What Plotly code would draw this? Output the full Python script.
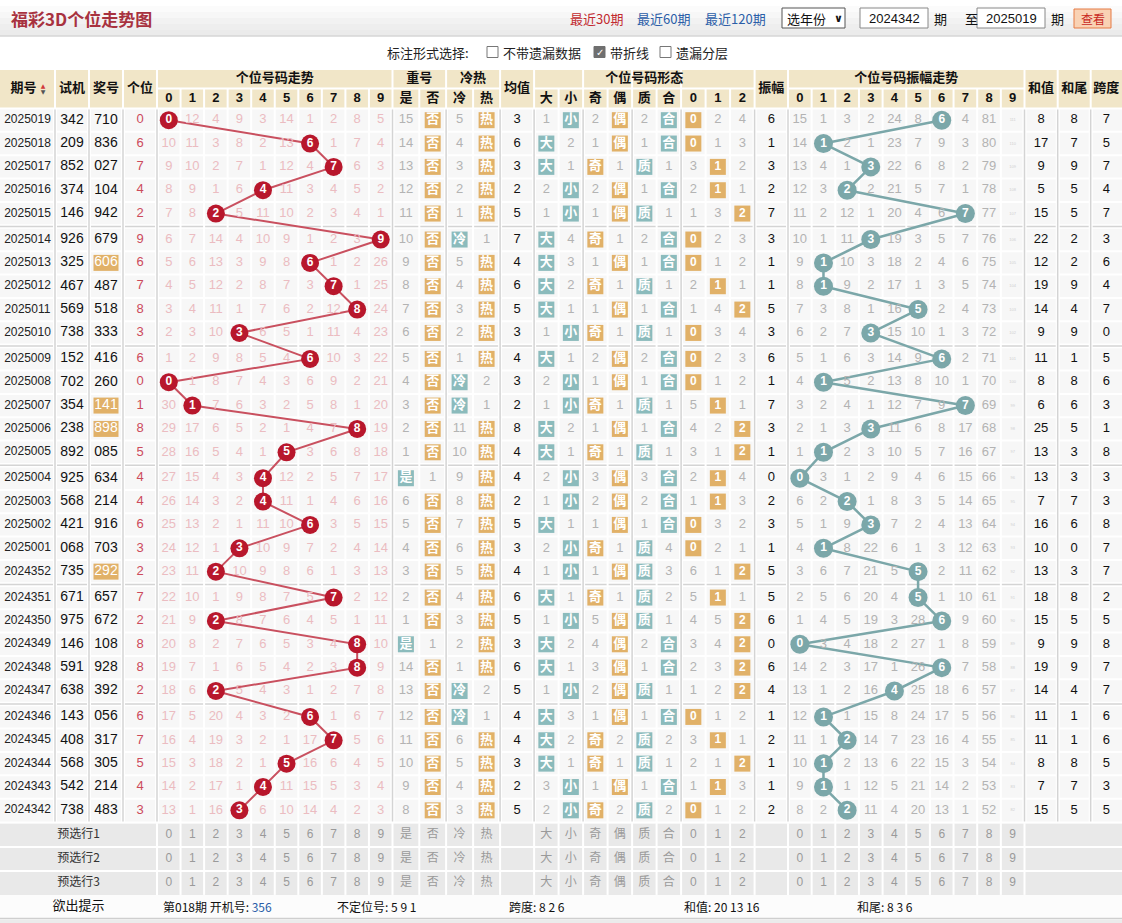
import plotly.graph_objects as go

# ---------------- 数据 ----------------
periods = ["2025019", "2025018", "2025017", "2025016", "2025015", "2025014", "2025013", "2025012",
           "2025011", "2025010", "2025009", "2025008", "2025007", "2025006", "2025005", "2025004",
           "2025003", "2025002", "2025001", "2024352", "2024351", "2024350", "2024349", "2024348",
           "2024347", "2024346", "2024345", "2024344", "2024343", "2024342"]
test_nums = ["342", "209", "852", "374", "146", "926", "325", "467", "569", "738", "152", "702", "354", "238", "892",
             "925", "568", "421", "068", "735", "671", "975", "146", "591", "638", "143", "408", "568", "542", "738"]
draws = ["710", "836", "027", "104", "942", "679", "606", "487", "518", "333", "416", "260", "141", "898", "085",
         "634", "214", "916", "703", "292", "657", "672", "108", "928", "392", "056", "317", "305", "214", "483"]

# 个位号码走势遗漏 (0 = 当期开出)
trend_miss = [
    [0, 12, 4, 9, 3, 14, 1, 2, 8, 5], [10, 11, 3, 8, 2, 13, 0, 1, 7, 4], [9, 10, 2, 7, 1, 12, 4, 0, 6, 3],
    [8, 9, 1, 6, 0, 11, 3, 4, 5, 2], [7, 8, 0, 5, 11, 10, 2, 3, 4, 1], [6, 7, 14, 4, 10, 9, 1, 2, 3, 0],
    [5, 6, 13, 3, 9, 8, 0, 1, 2, 26], [4, 5, 12, 2, 8, 7, 3, 0, 1, 25], [3, 4, 11, 1, 7, 6, 2, 12, 0, 24],
    [2, 3, 10, 0, 6, 5, 1, 11, 4, 23], [1, 2, 9, 8, 5, 4, 0, 10, 3, 22], [0, 1, 8, 7, 4, 3, 6, 9, 2, 21],
    [30, 0, 7, 6, 3, 2, 5, 8, 1, 20], [29, 17, 6, 5, 2, 1, 4, 7, 0, 19], [28, 16, 5, 4, 1, 0, 3, 6, 8, 18],
    [27, 15, 4, 3, 0, 12, 2, 5, 7, 17], [26, 14, 3, 2, 0, 11, 1, 4, 6, 16], [25, 13, 2, 1, 11, 10, 0, 3, 5, 15],
    [24, 12, 1, 0, 10, 9, 7, 2, 4, 14], [23, 11, 0, 10, 9, 8, 6, 1, 3, 13], [22, 10, 1, 9, 8, 7, 5, 0, 2, 12],
    [21, 9, 0, 8, 7, 6, 4, 5, 1, 11], [20, 8, 2, 7, 6, 5, 3, 4, 0, 10], [19, 7, 1, 6, 5, 4, 2, 3, 0, 9],
    [18, 6, 0, 5, 4, 3, 1, 2, 7, 8], [17, 5, 20, 4, 3, 2, 0, 1, 6, 7], [16, 4, 19, 3, 2, 1, 17, 0, 5, 6],
    [15, 3, 18, 2, 1, 0, 16, 6, 4, 5], [14, 2, 17, 1, 0, 11, 15, 5, 3, 4], [13, 1, 16, 0, 6, 10, 14, 4, 2, 3]]

repeat_miss = [[15, 0], [14, 0], [13, 0], [12, 0], [11, 0], [10, 0], [9, 0], [8, 0], [7, 0], [6, 0],
               [5, 0], [4, 0], [3, 0], [2, 0], [1, 0], [0, 1], [6, 0], [5, 0], [4, 0], [3, 0],
               [2, 0], [1, 0], [0, 1], [14, 0], [13, 0], [12, 0], [11, 0], [10, 0], [9, 0], [8, 0]]
coldhot_miss = [[5, 0], [4, 0], [3, 0], [2, 0], [1, 0], [0, 1], [5, 0], [4, 0], [3, 0], [2, 0],
                [1, 0], [0, 2], [0, 1], [11, 0], [10, 0], [9, 0], [8, 0], [7, 0], [6, 0], [5, 0],
                [4, 0], [3, 0], [2, 0], [1, 0], [0, 2], [0, 1], [6, 0], [5, 0], [4, 0], [3, 0]]
avg_vals = [3, 6, 3, 2, 5, 7, 4, 6, 5, 3, 4, 3, 2, 8, 4, 4, 2, 5, 3, 4, 6, 5, 3, 6, 5, 4, 4, 3, 2, 5]

bigsmall_miss = [[1, 0], [0, 2], [0, 1], [2, 0], [1, 0], [0, 4], [0, 3], [0, 2], [0, 1], [1, 0],
                 [0, 1], [2, 0], [1, 0], [0, 2], [0, 1], [2, 0], [1, 0], [0, 1], [2, 0], [1, 0],
                 [0, 1], [1, 0], [0, 2], [0, 1], [1, 0], [0, 3], [0, 2], [0, 1], [3, 0], [2, 0]]
oddeven_miss = [[2, 0], [1, 0], [0, 1], [2, 0], [1, 0], [0, 1], [1, 0], [0, 1], [1, 0], [0, 1],
                [2, 0], [1, 0], [0, 1], [1, 0], [0, 1], [3, 0], [2, 0], [1, 0], [0, 1], [1, 0],
                [0, 1], [5, 0], [4, 0], [3, 0], [2, 0], [1, 0], [0, 2], [0, 1], [1, 0], [0, 2]]
primecomp_miss = [[2, 0], [1, 0], [0, 1], [1, 0], [0, 1], [2, 0], [1, 0], [0, 1], [1, 0], [0, 1],
                  [2, 0], [1, 0], [0, 1], [1, 0], [0, 1], [3, 0], [2, 0], [1, 0], [0, 4], [0, 3],
                  [0, 2], [0, 1], [2, 0], [1, 0], [0, 1], [1, 0], [0, 2], [0, 1], [1, 0], [0, 2]]
mod3_miss = [[0, 2, 4], [0, 1, 3], [3, 0, 2], [2, 0, 1], [1, 3, 0], [0, 2, 3], [0, 1, 2], [2, 0, 1],
             [1, 4, 0], [0, 3, 4], [0, 2, 3], [0, 1, 2], [5, 0, 1], [4, 2, 0], [3, 1, 0], [2, 0, 4],
             [1, 0, 3], [0, 3, 2], [0, 2, 1], [6, 1, 0], [5, 0, 1], [4, 5, 0], [3, 4, 0], [2, 3, 0],
             [1, 2, 0], [0, 1, 2], [3, 0, 1], [2, 1, 0], [1, 0, 3], [0, 1, 2]]

amplitude = [6, 1, 3, 2, 7, 3, 1, 1, 5, 3, 6, 1, 7, 3, 1, 0, 2, 3, 1, 5, 5, 6, 0, 6, 4, 1, 2, 1, 1, 2]
# 振幅走势遗漏 0-8 (0 = 当期开出)
amp_miss = [
    [15, 1, 3, 2, 24, 8, 0, 4, 81], [14, 0, 2, 1, 23, 7, 9, 3, 80], [13, 4, 1, 0, 22, 6, 8, 2, 79],
    [12, 3, 0, 2, 21, 5, 7, 1, 78], [11, 2, 12, 1, 20, 4, 6, 0, 77], [10, 1, 11, 0, 19, 3, 5, 7, 76],
    [9, 0, 10, 3, 18, 2, 4, 6, 75], [8, 0, 9, 2, 17, 1, 3, 5, 74], [7, 3, 8, 1, 16, 0, 2, 4, 73],
    [6, 2, 7, 0, 15, 10, 1, 3, 72], [5, 1, 6, 3, 14, 9, 0, 2, 71], [4, 0, 5, 2, 13, 8, 10, 1, 70],
    [3, 2, 4, 1, 12, 7, 9, 0, 69], [2, 1, 3, 0, 11, 6, 8, 17, 68], [1, 0, 2, 3, 10, 5, 7, 16, 67],
    [0, 3, 1, 2, 9, 4, 6, 15, 66], [6, 2, 0, 1, 8, 3, 5, 14, 65], [5, 1, 9, 0, 7, 2, 4, 13, 64],
    [4, 0, 8, 22, 6, 1, 3, 12, 63], [3, 6, 7, 21, 5, 0, 2, 11, 62], [2, 5, 6, 20, 4, 0, 1, 10, 61],
    [1, 4, 5, 19, 3, 28, 0, 9, 60], [0, 3, 4, 18, 2, 27, 1, 8, 59], [14, 2, 3, 17, 1, 26, 0, 7, 58],
    [13, 1, 2, 16, 0, 25, 18, 6, 57], [12, 0, 1, 15, 8, 24, 17, 5, 56], [11, 1, 0, 14, 7, 23, 16, 4, 55],
    [10, 0, 2, 13, 6, 22, 15, 3, 54], [9, 0, 1, 12, 5, 21, 14, 2, 53], [8, 2, 0, 11, 4, 20, 13, 1, 52]]
# 振幅9 的遗漏太小看不清，估计值
amp9_miss = [111, 110, 109, 108, 107, 106, 105, 104, 103, 102, 101, 100, 99, 98, 97,
             96, 95, 94, 93, 92, 91, 90, 89, 88, 87, 86, 85, 84, 83, 82]

sum_vals = [8, 17, 9, 5, 15, 22, 12, 19, 14, 9, 11, 8, 6, 25, 13, 13, 7, 16, 10, 13, 18, 15, 9, 19, 14, 11, 11, 8, 7, 15]
sum_tail = [8, 7, 9, 5, 5, 2, 2, 9, 4, 9, 1, 8, 6, 5, 3, 3, 7, 6, 0, 3, 8, 5, 9, 9, 4, 1, 1, 8, 7, 5]
span_vals = [7, 5, 7, 4, 7, 3, 6, 4, 7, 0, 5, 6, 3, 1, 8, 3, 3, 8, 7, 7, 2, 5, 8, 7, 7, 6, 6, 5, 3, 5]

digit_labels = ["0", "1", "2", "3", "4", "5", "6", "7", "8", "9"]
form_labels = ["大", "小", "奇", "偶", "质", "合", "0", "1", "2"]
pre_labels = ["预选行1", "预选行2", "预选行3"]
hint_items = [("第018期 开机号: ", "356"), ("不定位号: ", "5 9 1"), ("跨度: ", "8 2 6"),
              ("和值: ", "20 13 16"), ("和尾: ", "8 3 6")]

# ---------------- 版式 ----------------
W, H = 1122, 923
NUM = "Liberation Sans Narrow, Liberation Sans, Arial, sans-serif"
NUMB = "Liberation Sans, Arial, sans-serif"
CJK = "Noto Sans CJK SC, sans-serif"

MISS_PINK = "#ebbcc1"
MISS_GRAY = "#b3b3b3"
RED = "#b8172c"
RED_LINE = "#c9505f"
TEAL = "#8bbbbc"
TEAL_C = "#7ba7a9"
ORANGE = "#e1b168"
HEAD_BG = "#f1e6c8"
CELL_BG = "#f7f7f7"
GRID_G = "#d4d4d4"

col_spec = ([("期号", 55), ("试机", 34), ("奖号", 34), ("个位", 34)]
            + [("t%d" % d, 23.55) for d in range(10)]
            + [("是", 26.8), ("否", 26.8), ("冷", 27), ("热", 27), ("均值", 34)]
            + [("f%d" % k, 24.5) for k in range(9)]
            + [("振幅", 33.4)]
            + [("a%d" % d, 23.65) for d in range(10)]
            + [("和值", 33.2), ("和尾", 33), ("跨度", 31.3)])
edges, cx = {}, {}
xpos = 0
for name, w in col_spec:
    edges[name] = (xpos, xpos + w)
    cx[name] = xpos + w / 2
    xpos += w

TOP, RH, GAP = 108.5, 23.35, 2.6


def ry(i):
    return TOP + i * RH + (i // 5) * GAP + RH / 2


BODY_BOT = TOP + 30 * RH + 5 * GAP
PRE_TOP, PRE_RH = BODY_BOT + 1.2, 23.9
PRE_BOT = PRE_TOP + 3 * PRE_RH
HINT_BOT = PRE_BOT + 23

texts = {}


def put(x, y, t, color, size=13, family=NUM, weight="normal"):
    k = (color, size, family, weight)
    texts.setdefault(k, ([], [], []))
    texts[k][0].append(x)
    texts[k][1].append(y)
    texts[k][2].append(t)


boxes = {}


def box(x, y, color, size=16):
    k = (color, size)
    boxes.setdefault(k, ([], []))
    boxes[k][0].append(x)
    boxes[k][1].append(y)


shapes = []


def rect(x0, y0, x1, y1, fill, line_color=None, lw=0):
    shapes.append(dict(type="rect", xref="x", yref="y", x0=x0, y0=y0, x1=x1, y1=y1,
                       fillcolor=fill, line=dict(color=line_color or fill, width=lw), layer="below"))


def hline(x0, x1, y, color, w):
    shapes.append(dict(type="line", xref="x", yref="y", x0=x0, x1=x1, y0=y, y1=y,
                       line=dict(color=color, width=w), layer="below"))


def vline(x, y0, y1, color, w):
    shapes.append(dict(type="line", xref="x", yref="y", x0=x, x1=x, y0=y0, y1=y1,
                       line=dict(color=color, width=w), layer="below"))


# 顶部栏
bands = ["#ffffff", "#fbfbfb", "#f7f7f7", "#f2f2f2", "#eeeeee", "#ebebeb"]
for k, c in enumerate(bands):
    rect(0, k * 6, W, k * 6 + 6, c)
hline(0, W, 36, "#d6d6d6", 1.5)

# 表头
rect(0, 69, W, TOP, HEAD_BG)
# 表体
rect(0, TOP, W, BODY_BOT, CELL_BG)
# 预选行
rect(0, PRE_TOP, W, PRE_BOT, "#e9e9e9")
rect(0, PRE_BOT, W, HINT_BOT, "#fcfcfc")
hline(0, W, HINT_BOT + 0.5, "#cfcfcf", 1.5)
rect(0, HINT_BOT + 1.5, W, H, "#ebebeb")

group_cols = {"期号", "试机", "奖号", "个位", "t9", "否", "热", "均值", "f1", "f3", "f5", "f8", "振幅", "a9",
              "和值", "和尾"}
full_span = ["期号", "试机", "奖号", "个位", "均值", "振幅", "和值", "和尾", "跨度"]
groups = [("个位号码走势", "t0", "t9"), ("重号", "是", "否"), ("冷热", "冷", "热"),
          ("个位号码形态", "f0", "f8"), ("个位号码振幅走势", "a0", "a9")]

# 表体网格
for i in range(1, 30):
    if i % 5 == 0:
        yb = ry(i) - RH / 2 - GAP / 2
        rect(0, yb - GAP / 2 - 1, W, yb + GAP / 2 + 1, "#ffffff")
        hline(0, W, yb, GRID_G, 1.5)
    else:
        hline(0, W, ry(i) - RH / 2, "#ffffff", 2)
for name, _ in col_spec[:-1]:
    xe = edges[name][1]
    if name in group_cols:
        vline(xe, TOP, BODY_BOT, "#ffffff", 4)
        vline(xe, TOP, BODY_BOT, GRID_G, 1.5)
    else:
        vline(xe, TOP, BODY_BOT, "#ffffff", 2)
hline(0, W, TOP, "#ffffff", 2)
hline(0, W, BODY_BOT + 0.6, "#ffffff", 2)

# 表头网格
hline(0, W, 69, "#ffffff", 2)
for name, _ in col_spec[:-1]:
    xe = edges[name][1]
    full = name in group_cols or name in full_span
    vline(xe, 69 if full else 88.5, TOP, "#ffffff", 2)
for _, a, b in groups:
    hline(edges[a][0], edges[b][1], 88.5, "#ffffff", 2)

# 预选行网格
for r in range(1, 3):
    hline(0, W, PRE_TOP + r * PRE_RH, "#ffffff", 2)
for name, _ in col_spec[3:-3]:
    vline(edges[name][1], PRE_TOP, PRE_BOT, "#ffffff", 2)

# ---------------- 表头文字 ----------------
for name in full_span:
    put(cx[name] - (4 if name == "期号" else 0), 88.8, name, "#111", 13, CJK, "bold")
put(edges["期号"][1] - 12, 86, "▲", "#d23a3a", 6, "DejaVu Sans")
put(edges["期号"][1] - 12, 92, "▼", "#555555", 6, "DejaVu Sans")
for title, a, b in groups:
    put((edges[a][0] + edges[b][1]) / 2, 78.5, title, "#111", 13, CJK, "bold")
for d in range(10):
    put(cx["t%d" % d], 99, digit_labels[d], "#111", 13, NUMB, "bold")
    put(cx["a%d" % d], 99, digit_labels[d], "#111", 13, NUMB, "bold")
for name in ["是", "否", "冷", "热"]:
    put(cx[name], 99, name, "#111", 13, CJK, "bold")
for k in range(9):
    fam = CJK if k < 6 else NUMB
    put(cx["f%d" % k], 99, form_labels[k], "#111", 13, fam, "bold")

# ---------------- 表体 ----------------
trend_x, trend_y, trend_t = [], [], []
amp_x, amp_y, amp_t = [], [], []
teal_set = {"是", "冷", "大", "小", "质", "合"}

for i in range(30):
    y = ry(i)
    put(cx["期号"], y, periods[i], "#222", 12)
    put(cx["试机"], y, test_nums[i], "#111", 14, NUMB)
    if len(set(draws[i])) == 2:
        # 组三号码高亮
        rect(cx["奖号"] - 12.5, y - 8, cx["奖号"] + 12.5, y + 8, ORANGE)
        put(cx["奖号"], y, draws[i], "#ffffff", 14, NUMB)
    else:
        put(cx["奖号"], y, draws[i], "#111", 14, NUMB)
    digit = int(draws[i][-1])
    put(cx["个位"], y, str(digit), "#cc4a5b", 13)

    for d in range(10):
        m = trend_miss[i][d]
        if m == 0:
            trend_x.append(cx["t%d" % d])
            trend_y.append(y)
            trend_t.append(digit_labels[d])
        else:
            put(cx["t%d" % d], y, str(m), MISS_PINK, 13)

    pair_sets = [(["是", "否"], ["是", "否"], repeat_miss[i]),
                 (["冷", "热"], ["冷", "热"], coldhot_miss[i]),
                 (["f0", "f1"], form_labels[0:2], bigsmall_miss[i]),
                 (["f2", "f3"], form_labels[2:4], oddeven_miss[i]),
                 (["f4", "f5"], form_labels[4:6], primecomp_miss[i]),
                 (["f6", "f7", "f8"], form_labels[6:9], mod3_miss[i])]
    for cols, labs, ms in pair_sets:
        for c, lab, m in zip(cols, labs, ms):
            if m == 0:
                box(cx[c], y, TEAL if lab in teal_set else ORANGE)
                if lab.isdigit():
                    put(cx[c], y, lab, "#ffffff", 12, NUMB, "bold")
                else:
                    put(cx[c], y, lab, "#ffffff", 13, CJK, "bold")
            else:
                put(cx[c], y, str(m), MISS_GRAY, 13)

    put(cx["均值"], y, str(avg_vals[i]), "#111", 13)
    put(cx["振幅"], y, str(amplitude[i]), "#111", 13)
    for d in range(9):
        m = amp_miss[i][d]
        if m == 0:
            amp_x.append(cx["a%d" % d])
            amp_y.append(y)
            amp_t.append(digit_labels[d])
        else:
            put(cx["a%d" % d], y, str(m), MISS_GRAY, 13)
    put(cx["a9"], y, str(amp9_miss[i]), "#cfcfcf", 4, NUMB)
    put(cx["和值"], y, str(sum_vals[i]), "#111", 13)
    put(cx["和尾"], y, str(sum_tail[i]), "#111", 13)
    put(cx["跨度"], y, str(span_vals[i]), "#111", 13)

# 预选行
for r in range(3):
    y = PRE_TOP + (r + 0.5) * PRE_RH
    put(edges["个位"][1] / 2, y, pre_labels[r], "#333", 12, CJK)
    for d in range(10):
        put(cx["t%d" % d], y, digit_labels[d], "#9a9a9a", 12, NUM)
        put(cx["a%d" % d], y, digit_labels[d], "#9a9a9a", 12, NUM)
    for name in ["是", "否", "冷", "热"]:
        put(cx[name], y, name, "#9a9a9a", 12, CJK)
    for k in range(9):
        put(cx["f%d" % k], y, form_labels[k], "#9a9a9a", 12, CJK if k < 6 else NUM)

# 欲出提示
hint_y = (PRE_BOT + HINT_BOT) / 2
put(edges["个位"][1] / 2, hint_y, "欲出提示", "#111", 13, CJK)

fig = go.Figure()

fig.add_trace(go.Scatter(x=trend_x, y=trend_y, mode="lines", line=dict(color=RED_LINE, width=2),
                         hoverinfo="skip"))
fig.add_trace(go.Scatter(x=amp_x, y=amp_y, mode="lines", line=dict(color=TEAL_C, width=2.5),
                         hoverinfo="skip"))
for (color, size), (xs, ys) in boxes.items():
    fig.add_trace(go.Scatter(x=xs, y=ys, mode="markers", hoverinfo="skip",
                             marker=dict(symbol="square", size=size, color=color, line=dict(width=0))))
fig.add_trace(go.Scatter(x=trend_x, y=trend_y, mode="markers+text", text=trend_t, hoverinfo="skip",
                         marker=dict(size=18, color=RED, line=dict(width=0)),
                         textfont=dict(color="#ffffff", size=12, family=NUMB, weight="bold")))
fig.add_trace(go.Scatter(x=amp_x, y=amp_y, mode="markers+text", text=amp_t, hoverinfo="skip",
                         marker=dict(size=19, color=TEAL_C, line=dict(width=0)),
                         textfont=dict(color="#ffffff", size=12, family=NUMB, weight="bold")))
for (color, size, family, weight), (xs, ys, ts) in texts.items():
    fig.add_trace(go.Scatter(x=xs, y=ys, text=ts, mode="text", hoverinfo="skip", cliponaxis=False,
                             textposition="middle center",
                             textfont=dict(color=color, size=size, family=family, weight=weight)))

# ---------------- 顶部控件与注释 ----------------
ann = []


def label(x, y, t, color="#333", size=13, family=CJK, anchor="left", weight="normal"):
    ann.append(dict(x=x, y=y, xref="x", yref="y", text=t, showarrow=False, xanchor=anchor,
                    yanchor="middle", font=dict(color=color, size=size, family=family, weight=weight)))


label(9, 18, "福彩3D个位走势图", "#a8323f", 17, CJK, weight="bold")
label(568, 18, "最近30期", "#c22a2f", 13)
label(635, 18, "最近60期", "#2b5ea8", 13)
label(703, 18, "最近120期", "#2b5ea8", 13)
shapes.append(dict(type="rect", xref="x", yref="y", x0=782, x1=845, y0=8, y1=28,
                   fillcolor="#ffffff", line=dict(color="#555", width=1)))
label(785, 18, "选年份", "#111", 13)
label(838, 18, "∨", "#111", 11, "DejaVu Sans", "center", "bold")
shapes.append(dict(type="rect", xref="x", yref="y", x0=860, x1=928, y0=8, y1=28,
                   fillcolor="#ffffff", line=dict(color="#888", width=1)))
label(894, 18, periods[-1], "#111", 13, NUMB, "center")
label(932, 18, "期", "#111", 13)
label(963, 18, "至", "#111", 13)
shapes.append(dict(type="rect", xref="x", yref="y", x0=977, x1=1045, y0=8, y1=28,
                   fillcolor="#ffffff", line=dict(color="#888", width=1)))
label(1011, 18, periods[0], "#111", 13, NUMB, "center")
label(1049, 18, "期", "#111", 13)
shapes.append(dict(type="rect", xref="x", yref="y", x0=1074, x1=1111, y0=9, y1=28,
                   fillcolor="#f9d2b4", line=dict(color="#e57a45", width=1)))
label(1092.5, 18.5, "查看", "#c8281e", 12, CJK, "center")

label(385, 52, "标注形式选择:", "#222", 13)
for x0, t, checked in [(487, "不带遗漏数据", False), (594, "带折线", True), (660, "遗漏分层", False)]:
    shapes.append(dict(type="rect", xref="x", yref="y", x0=x0, x1=x0 + 11, y0=46.5, y1=57.5,
                       fillcolor="#6f6f6f" if checked else "#ffffff",
                       line=dict(color="#6f6f6f" if checked else "#777", width=1)))
    if checked:
        label(x0 + 5.5, 52, "✓", "#ffffff", 10, "DejaVu Sans", "center", "bold")
    label(x0 + 14, 52, t, "#222", 13)

hint_x = [161, 335, 507, 682, 855]
for (head, val), hx in zip(hint_items, hint_x):
    vcol = "#2b5ea8" if head.startswith("第") else "#111"
    ann.append(dict(x=hx, y=hint_y, xref="x", yref="y", showarrow=False, xanchor="left", yanchor="middle",
                    text="%s<span style='color:%s'>%s</span>" % (head, vcol, val),
                    font=dict(color="#111", size=12, family=CJK)))

fig.update_layout(
    width=W, height=H, margin=dict(l=0, r=0, t=0, b=0),
    paper_bgcolor="#ffffff", plot_bgcolor="#ffffff", showlegend=False,
    xaxis=dict(range=[0, W], visible=False, fixedrange=True),
    yaxis=dict(range=[H, 0], visible=False, fixedrange=True),
    shapes=shapes, annotations=ann,
)

fig.write_html("out.html", config={"displayModeBar": False},
               post_script="document.body.style.margin='0';document.body.style.overflow='hidden';")
